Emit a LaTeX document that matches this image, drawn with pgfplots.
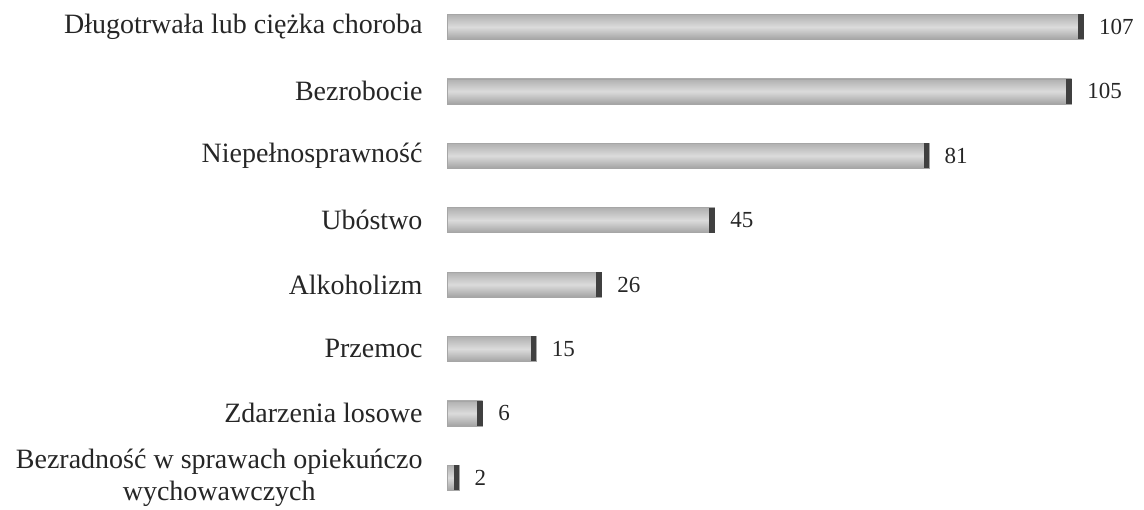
\documentclass[border=0pt]{standalone}
\usepackage{fontspec}
\setmainfont{Liberation Serif}
\usepackage{pgfplots}
\pgfplotsset{compat=1.18}
\pgfplotsset{
  mybar/.style={
    shade, draw=gray!70, line width=0.6pt,
    top color=gray!62, bottom color=gray!72, middle color=gray!28,
    error bars/.cd, x dir=minus, x explicit,
    error mark=none,
    error bar style={line width=25pt, color=black!75, solid},
  },
}
\begin{document}
\begin{tikzpicture}
\begin{axis}[
  xbar, bar shift=0pt,
  bar width=25pt,
  x=5.95pt, y=64.4pt,
  y dir=reverse,
  xmin=-75.13, xmax=117.14,
  ymin=-0.419, ymax=7.484,
  axis line style={draw=none},
  major tick length=0pt,
  xtick=\empty,
  ytick={0,1,2,3,4,5,6,7},
  yticklabels={{D\l ugotrwa\l a lub ciężka choroba},{Bezrobocie},{Niepe\l nosprawność},{Ubóstwo},{Alkoholizm},{Przemoc},{Zdarzenia losowe},{Bezradność w sprawach opiekuńczo\\wychowawczych}},
  yticklabel style={anchor=east, align=center, xshift=426pt, font=\fontsize{28}{32}\selectfont, text=black!85},
  nodes near coords,
  /pgf/number format/assume math mode=true,
  every node near coord/.append style={anchor=west, xshift=12pt, text=black!85, font=\fontsize{23}{28}\selectfont},
  clip=false,
]
\addplot[mybar] coordinates {(107,0) -= (0.9,0)};
\addplot[mybar] coordinates {(105,1) -= (0.9,0)};
\addplot[mybar] coordinates {(81,2) -= (0.9,0)};
\addplot[mybar] coordinates {(45,3) -= (0.9,0)};
\addplot[mybar] coordinates {(26,4) -= (0.9,0)};
\addplot[mybar] coordinates {(15,5) -= (0.9,0)};
\addplot[mybar] coordinates {(6,6) -= (0.9,0)};
\addplot[mybar] coordinates {(2,7) -= (0.9,0)};
\end{axis}
\end{tikzpicture}
\end{document}
